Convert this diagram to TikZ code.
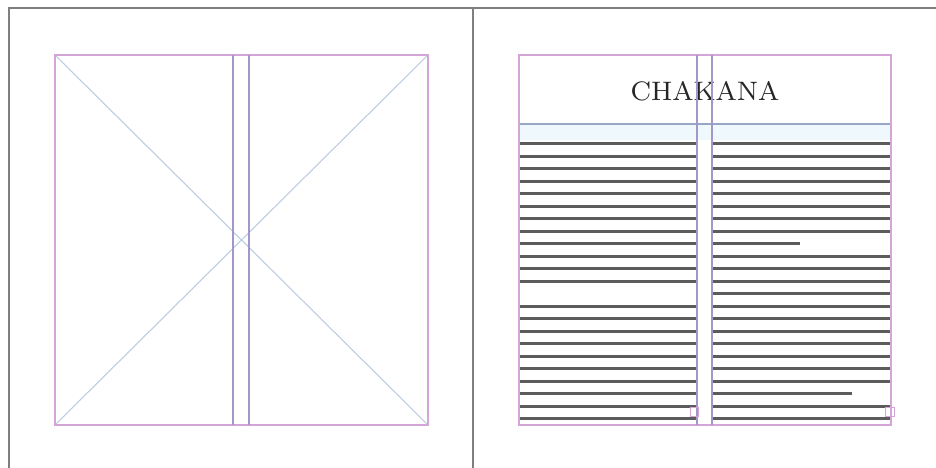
\documentclass[tikz,border=0pt]{standalone}
\usepackage{tikz}
\usetikzlibrary{positioning}
\definecolor{pageline}{HTML}{7F7F7F}
\definecolor{margincol}{HTML}{D4A6D8}
\definecolor{guidecol}{HTML}{A496C8}
\definecolor{framecol}{HTML}{98A6C6}
\definecolor{crosscol}{HTML}{BCCCE2}
\definecolor{bandcol}{HTML}{EEF8FD}
\definecolor{barcol}{HTML}{5C5C5C}
\tikzset{
  pageedge/.style={draw=pageline,line width=0.55pt},
  margin/.style={draw=margincol,line width=0.3pt},
  guide/.style={draw=guidecol,line width=0.35pt},
  frame/.style={draw=framecol,line width=0.3pt},
  cross/.style={draw=crosscol,line width=0.3pt},
  textbar/.style={draw=barcol,line width=0.85pt},
  port/.style={draw=margincol,line width=0.25pt},
  title/.style={font=\fontsize{7.6}{9}\selectfont,text=black!85,inner sep=0pt}
}

\begin{document}
\begin{tikzpicture}[x=0.1mm,y=-0.1mm]
\useasboundingbox (0,0) rectangle (936,468);
\fill[white] (0,0) rectangle (936,468);

% page edges
\draw[pageedge] (9,468) -- (9,8) -- (936,8);
\draw[pageedge] (473,8) -- (473,468);

% left page: empty frame
\draw[cross] (55,55) -- (428,425);
\draw[cross] (428,55) -- (55,425);
\draw[margin] (55,55) rectangle (428,425);
\draw[guide] (233,55) -- (233,425);
\draw[guide] (249,55) -- (249,425);

% right page: header and text columns
\fill[bandcol] (519,124) rectangle (891,140);
\draw[frame] (519,55) rectangle (891,124);
\node[title] (head) at (705,91) {CHAKANA};

\foreach \i in {0,...,11,13,14,...,22}
  \draw[textbar] (520,144+12.5*\i) -- (696,144+12.5*\i);
\foreach \i in {0,...,7,9,10,...,19,21,22}
  \draw[textbar] (713,144+12.5*\i) -- (890,144+12.5*\i);
\draw[textbar] (713,244) -- (800,244);
\draw[textbar] (713,394) -- (852,394);

\draw[margin] (519,55) rectangle (891,425);
\draw[guide] (697,55) -- (697,425);
\draw[guide] (712,55) -- (712,425);

% out ports
\draw[port] (690,407) rectangle (698,416);
\draw[port] (885,407) rectangle (894,416);
\end{tikzpicture}
\end{document}
